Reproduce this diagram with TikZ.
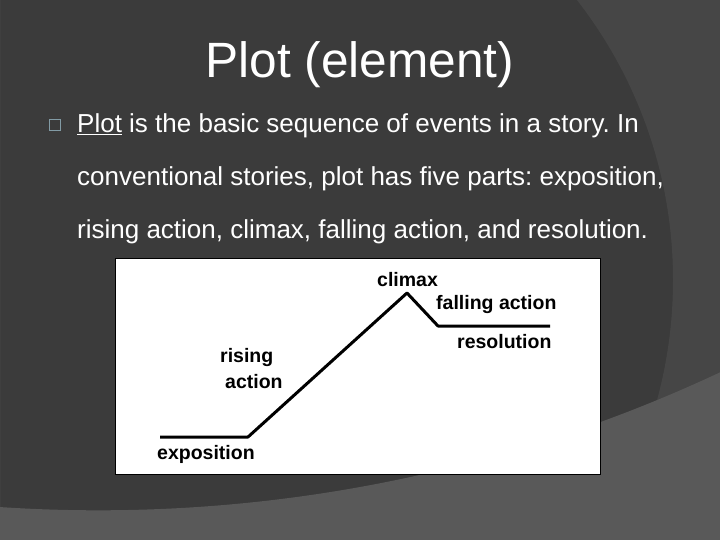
\documentclass[tikz,border=0pt]{standalone}
\usepackage{fontspec}
\setmainfont{Liberation Sans}
\definecolor{bgbase}{RGB}{59,59,59}
\definecolor{bgright}{RGB}{70,70,70}
\definecolor{bglow}{RGB}{89,89,89}
\definecolor{bulletc}{RGB}{130,155,165}
\frenchspacing
\begin{document}
\begin{tikzpicture}[x=1pt,y=-1pt,
  titletext/.style={text=white,font=\fontsize{49.6}{56}\selectfont,inner sep=0pt,anchor=base},
  bodytext/.style={text=white,font=\fontsize{26}{30}\selectfont,inner sep=0pt,anchor=base west},
  lbl/.style={text=black,font=\bfseries\fontsize{19.5}{22}\selectfont,inner sep=0pt,anchor=base west},
  bulletbox/.style={draw=bulletc,line width=1.6pt,minimum width=11pt,minimum height=11pt,inner sep=0pt},
  plotline/.style={line width=3pt,line join=round,line cap=butt,black}]
\useasboundingbox (0,0) rectangle (720,540);
% background
\fill[bgbase] (0,0) rectangle (720,540);
\fill[bgright,even odd rule] (0,0) rectangle (720,540) (217,280) circle[radius=456pt];
\fill[bglow,even odd rule] (0,0) rectangle (720,540) (98.3,-956) circle[radius=1466.3pt];
% title and text
\node[titletext] (title) at (360,78) {Plot (element)};
\node[bulletbox] (bul) at (55,125) {};
\node[bodytext] (l1) at (77,133) {\underline{Plot} is the basic sequence of events in a story. In};
\node[bodytext] (l2) at (77,186) {conventional stories, plot has five parts: exposition,};
\node[bodytext] (l3) at (77,239) {rising action, climax, falling action, and resolution.};
% picture
\node[draw=black,fill=white,line width=1pt,minimum width=485pt,minimum height=216pt,inner sep=0pt,anchor=north west] (pic) at (115,258) {};
\coordinate (e0) at (160,437);
\coordinate (e1) at (248,437);
\coordinate (pk) at (407,293);
\coordinate (r0) at (438,326);
\coordinate (r1) at (550,326);
\draw[plotline] (e0) -- (e1) -- (pk) -- (r0) -- (r1);
\node[lbl] (climax) at (377,286) {climax};
\node[lbl] (falling) at (436,309) {falling action};
\node[lbl] (resol) at (457,348) {resolution};
\node[lbl] (rising) at (220,362) {rising};
\node[lbl] (action) at (225,388) {action};
\node[lbl] (expo) at (157,459) {exposition};
\end{tikzpicture}
\end{document}
